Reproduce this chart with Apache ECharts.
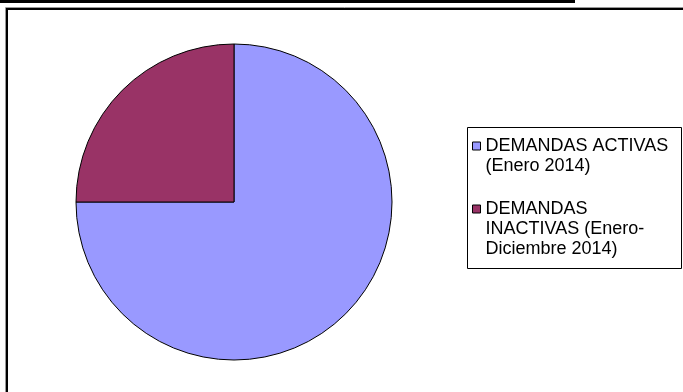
<!DOCTYPE html>
<html>
<head>
<meta charset="utf-8">
<script src="https://cdn.jsdelivr.net/npm/echarts@6/dist/echarts.min.js"></script>
<style>
  html, body { margin: 0; padding: 0; background: #fff; }
  #chart { width: 683px; height: 392px; }
</style>
</head>
<body>
<div id="chart"></div>
<script>
// datos
const categories = ['DEMANDAS ACTIVAS (Enero 2014)', 'DEMANDAS INACTIVAS (Enero-Diciembre 2014)'];
const legendLines = [
  ['DEMANDAS ACTIVAS', '(Enero 2014)'],
  ['DEMANDAS', 'INACTIVAS (Enero-', 'Diciembre 2014)']
];
const values = [75, 25];
const colors = ['#9999FF', '#993366'];

const LINE_H = 20;
const chart = echarts.init(document.getElementById('chart'));

// líneas vacías delante para que el icono quede a la altura de la primera línea
function legendText(name) {
  const lines = legendLines[categories.indexOf(name)];
  return new Array(lines.length - 1).fill('').concat(lines).join('\n');
}

const option = {
  animation: false,
  graphic: [
    { type: 'rect', shape: { x: 0, y: 0, width: 575, height: 3 }, style: { fill: '#000' }, silent: true },
    { type: 'polyline', shape: { points: [[5.5, 392], [5.5, 7.5], [683, 7.5]] }, style: { stroke: '#999', lineWidth: 1, fill: null }, silent: true },
    { type: 'polyline', shape: { points: [[7, 392], [7, 9], [683, 9]] }, style: { stroke: '#000', lineWidth: 2, fill: null }, silent: true },
    { type: 'rect', shape: { x: 467.5, y: 127.5, width: 214, height: 141 }, style: { stroke: '#000', lineWidth: 1, fill: null }, silent: true }
  ],
  legend: {
    orient: 'vertical',
    left: 472,
    top: 116,
    padding: 0,
    itemGap: -17,
    itemWidth: 8,
    itemHeight: 8,
    icon: 'rect',
    selectedMode: false,
    itemStyle: { borderColor: '#000', borderWidth: 1 },
    textStyle: { fontFamily: 'Liberation Sans, Arial, sans-serif', fontSize: 18, lineHeight: LINE_H, color: '#000' },
    formatter: legendText,
    data: categories
  },
  series: [{
    type: 'pie',
    center: [234, 202],
    radius: 158,
    startAngle: 90,
    clockwise: true,
    label: { show: false },
    labelLine: { show: false },
    emphasis: { disabled: true },
    itemStyle: { borderColor: '#000', borderWidth: 1 },
    data: categories.map((name, i) => ({ name, value: values[i], itemStyle: { color: colors[i] } }))
  }]
};

chart.setOption(option);
</script>
</body>
</html>
